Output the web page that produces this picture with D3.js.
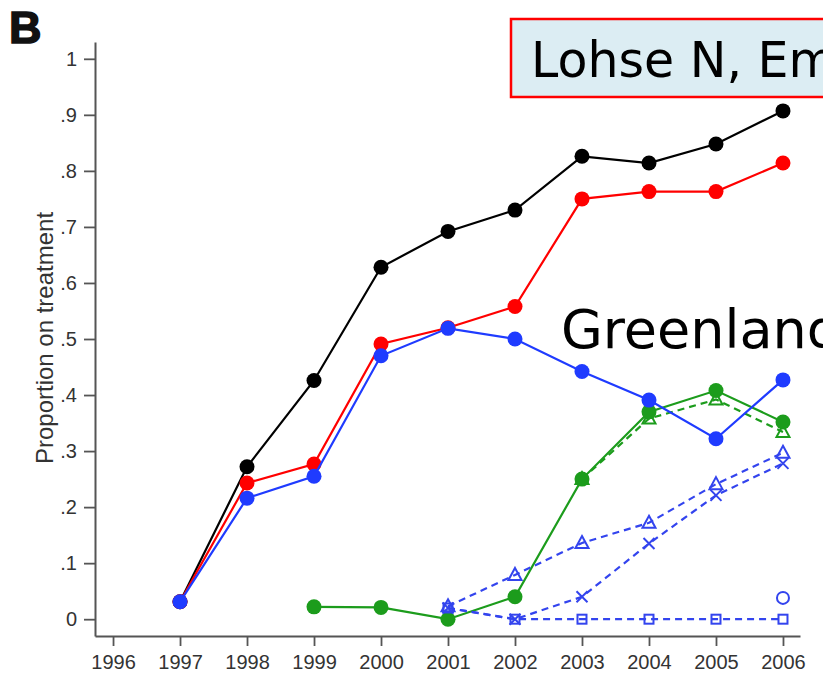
<!DOCTYPE html>
<html>
<head>
<meta charset="utf-8">
<script src="https://cdn.jsdelivr.net/npm/d3@7"></script>
<style>
  body { margin: 0; background: #fff; overflow: hidden; }
  svg { display: block; }
</style>
</head>
<body>
<script>
const years = [1997, 1998, 1999, 2000, 2001, 2002, 2003, 2004, 2005, 2006];
const xTicks = [1996, 1997, 1998, 1999, 2000, 2001, 2002, 2003, 2004, 2005, 2006];
const yTicks = [0, 0.1, 0.2, 0.3, 0.4, 0.5, 0.6, 0.7, 0.8, 0.9, 1];

// solid series (filled circles)
const blackValues = [0.031, 0.272, 0.426, 0.628, 0.692, 0.730, 0.826, 0.814, 0.848, 0.907];
const redValues = [0.031, 0.243, 0.277, 0.491, 0.520, 0.558, 0.750, 0.763, 0.763, 0.814];
const blueValues = [0.031, 0.216, 0.255, 0.470, 0.519, 0.500, 0.442, 0.391, 0.322, 0.427];
const greenValues = [null, null, 0.022, 0.021, 0.000, 0.040, 0.250, 0.370, 0.408, 0.352];

// dashed series (hollow markers)
const greenTriValues = [null, null, null, null, null, null, 0.250, 0.358, 0.392, 0.334];
const blueTriValues = [null, null, null, null, 0.023, 0.079, 0.136, 0.172, 0.241, 0.297];
const blueCrossValues = [null, null, null, null, 0.020, 0.000, 0.040, 0.135, 0.221, 0.278];
const blueSquareValues = [null, null, null, null, 0.020, 0.000, 0.000, 0.000, 0.000, 0.000];
const blueCircleValues = [null, null, null, null, null, null, null, null, null, 0.038];

const boxText = "Lohse N, Em";
const countryText = "Greenland";

const W = 823, H = 673;
const margin = { top: 42, right: 23, bottom: 37, left: 95 };
const width = W - margin.left - margin.right;
const height = H - margin.top - margin.bottom;

const BLACK = "#000000", RED = "#ff0000", BLUE = "#1f3bff", DASHBLUE = "#3344ee", GREEN = "#1c9c1c";

const svg = d3.select("body").append("svg")
  .attr("width", W)
  .attr("height", H);

const chart = svg.append("g")
  .attr("transform", `translate(${margin.left},${margin.top})`);

const x = d3.scaleLinear()
  .domain([1995.731, 2006.254])
  .range([0, width]);

const y = d3.scaleLinear()
  .domain([-0.03, 1.03])
  .range([height, 0]);

const fmtY = d => d === 0 ? "0" : d === 1 ? "1" : d3.format(".1f")(d).replace(/^0/, "");

const yAxis = chart.append("g")
  .call(d3.axisLeft(y).tickValues(yTicks).tickFormat(fmtY).tickSize(11).tickPadding(7).tickSizeOuter(0));

const xAxis = chart.append("g")
  .attr("transform", `translate(0,${height})`)
  .call(d3.axisBottom(x).tickValues(xTicks).tickFormat(d3.format("d")).tickSize(10).tickPadding(9).tickSizeOuter(0));

[yAxis, xAxis].forEach(a => {
  a.select(".domain").attr("stroke", "#555").attr("stroke-width", 2);
  a.selectAll(".tick line").attr("stroke", "#555").attr("stroke-width", 1.8);
  a.selectAll(".tick text")
    .attr("fill", "#333")
    .style("font-family", "Liberation Sans, Arial, sans-serif")
    .style("font-size", "20px");
});

svg.append("text")
  .attr("transform", "rotate(-90)")
  .attr("x", -338)
  .attr("y", 53)
  .attr("text-anchor", "middle")
  .attr("fill", "#333")
  .style("font-family", "Liberation Sans, Arial, sans-serif")
  .style("font-size", "24px")
  .text("Proportion on treatment");

svg.append("text")
  .attr("x", 9)
  .attr("y", 43)
  .attr("fill", "#111")
  .attr("stroke", "#111")
  .attr("stroke-width", 1.5)
  .style("font-family", "Liberation Sans, Arial, sans-serif")
  .style("font-weight", "bold")
  .style("font-size", "45px")
  .text("B");

function pts(values) {
  return years.map((yr, i) => ({ year: yr, value: values[i] }));
}

const line = d3.line()
  .defined(d => d.value !== null)
  .x(d => x(d.year))
  .y(d => y(d.value));

function drawLine(values, color, dashed) {
  chart.append("path")
    .datum(pts(values))
    .attr("fill", "none")
    .attr("stroke", color)
    .attr("stroke-width", 2.2)
    .attr("stroke-dasharray", dashed ? "7,5" : null)
    .attr("d", line);
}

function drawMarkers(values, color, shape) {
  const data = pts(values).filter(d => d.value !== null);
  const g = chart.append("g");
  const sel = g.selectAll("g").data(data).enter().append("g")
    .attr("transform", d => `translate(${x(d.year)},${y(d.value)})`);
  if (shape === "dot") {
    sel.append("circle").attr("r", 7.5).attr("fill", color);
  } else if (shape === "ring") {
    sel.append("circle").attr("r", 6).attr("fill", "none").attr("stroke", color).attr("stroke-width", 2);
  } else if (shape === "tri") {
    sel.append("path").attr("d", "M0,-7L6.5,5L-6.5,5Z")
      .attr("fill", "none").attr("stroke", color).attr("stroke-width", 2);
  } else if (shape === "square") {
    sel.append("rect").attr("x", -4.5).attr("y", -4.5).attr("width", 9).attr("height", 9)
      .attr("fill", "none").attr("stroke", color).attr("stroke-width", 2);
  } else if (shape === "cross") {
    sel.append("path").attr("d", "M-5.5,-5.5L5.5,5.5M-5.5,5.5L5.5,-5.5")
      .attr("fill", "none").attr("stroke", color).attr("stroke-width", 2);
  }
}

drawLine(blackValues, BLACK, false);
drawMarkers(blackValues, BLACK, "dot");
drawLine(redValues, RED, false);
drawMarkers(redValues, RED, "dot");

drawLine(greenTriValues, GREEN, true);
drawMarkers(greenTriValues, GREEN, "tri");
drawLine(greenValues, GREEN, false);
drawMarkers(greenValues, GREEN, "dot");

drawLine(blueSquareValues, DASHBLUE, true);
drawMarkers(blueSquareValues, DASHBLUE, "square");
drawLine(blueCrossValues, DASHBLUE, true);
drawMarkers(blueCrossValues, DASHBLUE, "cross");
drawLine(blueTriValues, DASHBLUE, true);
drawMarkers(blueTriValues, DASHBLUE, "tri");
drawMarkers(blueCircleValues, DASHBLUE, "ring");

drawLine(blueValues, BLUE, false);
drawMarkers(blueValues, BLUE, "dot");

// overlay labels, cut at the right edge as in the source
svg.append("rect")
  .attr("x", 511)
  .attr("y", 19)
  .attr("width", 340)
  .attr("height", 78)
  .attr("fill", "#dcedf3")
  .attr("stroke", "#ff0000")
  .attr("stroke-width", 2.5);

svg.append("text")
  .attr("x", 531)
  .attr("y", 77)
  .attr("fill", "#000")
  .style("font-family", "DejaVu Sans, Verdana, sans-serif")
  .style("font-size", "49px")
  .text(boxText);

svg.append("text")
  .attr("x", 561)
  .attr("y", 348)
  .attr("fill", "#000")
  .style("font-family", "DejaVu Sans, Verdana, sans-serif")
  .style("font-size", "54px")
  .text(countryText);
</script>
</body>
</html>
